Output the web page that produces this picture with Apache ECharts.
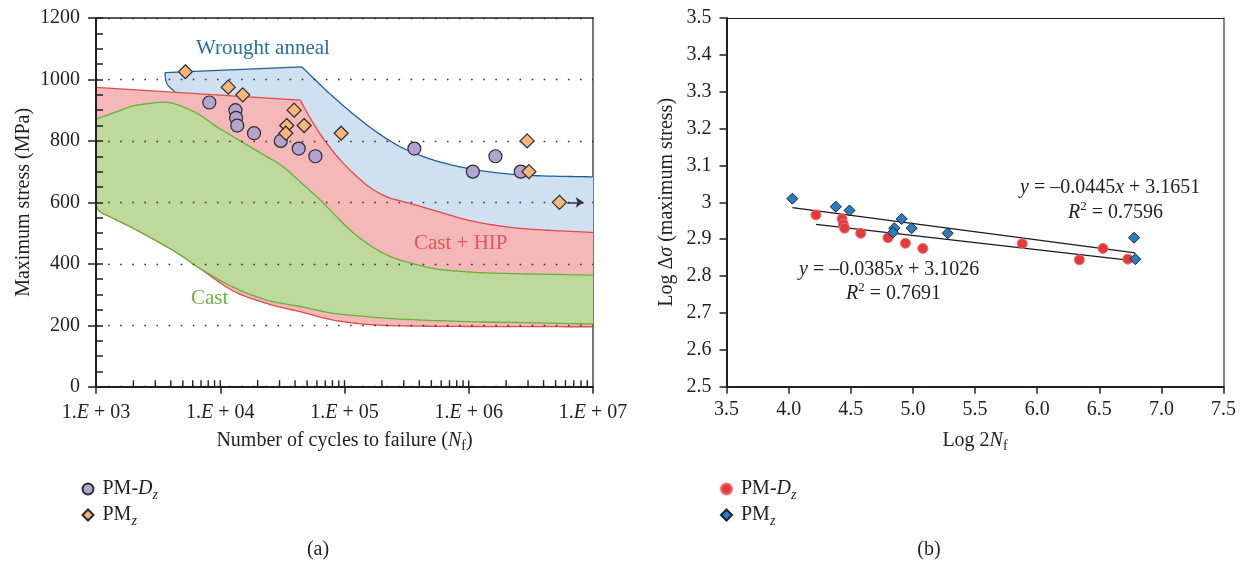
<!DOCTYPE html>
<html>
<head>
<meta charset="utf-8">
<script src="https://cdn.jsdelivr.net/npm/echarts@6/dist/echarts.min.js"></script>
<style>
  html, body { margin: 0; padding: 0; background: #ffffff; }
  #chart { width: 1242px; height: 565px; }
</style>
</head>
<body>
<div id="chart"></div>
<script>
const FONT = 'Liberation Serif';
const INK = '#231f20';

// ---- (a) maximum stress vs. cycles to failure ----
const pmDzCycles = [8170, 13250, 13400, 13700, 18700, 30700, 42800, 58300, 365000, 1079000, 1640000, 2620000];
const pmDzStress = [925, 900, 875, 850, 825, 800, 775, 750, 775, 700, 750, 700];
const pmZCycles = [5240, 11600, 15170, 39300, 34300, 33700, 47300, 94000, 2950000, 3050000, 5370000];
const pmZStress = [1025, 975, 950, 900, 850, 825, 850, 825, 800, 700, 600];
const runoutArrow = [[6.2e6, 600], [8.4e6, 600]];

// scatter bands of the reference alloys, [cycles, MPa]
const wroughtEdge = [[4325, 959], [3820, 980], [3640, 998], [3594, 1022]];
const wroughtTopLine = [[3594, 1022], [45300, 1041]];
const wroughtTopCurve = [[45300, 1041], [80900, 944], [151400, 852], [280500, 781], [516800, 738], [966000, 711], [1791000, 695], [3303000, 687], [1e7, 683]];
const castHipTopLine = [[1000, 974], [43970, 933]];
const castHipTopCurve = [[43970, 933], [56200, 857], [72100, 792], [98000, 727], [151400, 656], [219300, 618], [307700, 601], [516800, 575], [966000, 543], [1791000, 523], [3303000, 512], [1e7, 502]];
const castHipBottom = [[1000, 591], [1077, 570], [1296, 553], [1987, 516], [3707, 456], [5015, 423], [6870, 385], [12680, 312], [23660, 271], [43970, 244], [80900, 217], [151400, 203], [280500, 198], [966000, 196], [1e7, 195]];
const castTop = [[1000, 871], [1468, 895], [1987, 914], [2722, 922], [3462, 926], [4168, 922], [5372, 906], [6870, 884], [9370, 846], [12680, 814], [17380, 781], [23660, 749], [32040, 716], [43970, 667], [63670, 608], [80900, 565], [110900, 510], [151400, 467], [204700, 435], [280500, 412], [516800, 385], [966000, 374], [1791000, 369], [1e7, 363]];
const castBottom = [[1000, 591], [1077, 570], [1296, 553], [1987, 516], [3707, 456], [5015, 423], [6870, 385], [12680, 324], [23660, 282], [43970, 261], [80900, 239], [151400, 228], [280500, 220], [966000, 212], [1e7, 204]];

// ---- (b) log-log data and linear fits ----
const pmDzLog2N = [4.22, 4.43, 4.44, 4.45, 4.58, 4.80, 4.94, 5.08, 5.88, 6.53, 6.34, 6.73];
const pmDzLogS = [2.966, 2.955, 2.941, 2.930, 2.916, 2.904, 2.889, 2.875, 2.888, 2.875, 2.844, 2.846];
const pmZLog2N = [4.03, 4.38, 4.49, 4.91, 4.85, 4.84, 4.99, 5.28, 6.78, 6.79];
const pmZLogS = [3.010, 2.988, 2.978, 2.955, 2.930, 2.918, 2.930, 2.916, 2.904, 2.846];
const pmZFit = [-0.0445, 3.1651];
const pmZFitRange = [4.03, 6.79];
const pmZR2 = 0.7596;
const pmDzFit = [-0.0385, 3.1026];
const pmDzFitRange = [4.22, 6.75];
const pmDzR2 = 0.7691;

const zip = (a, b) => a.map((v, i) => [v, b[i]]);
const fitLine = (fit, range) => range.map(x => [x, fit[1] + fit[0] * x]);
const eqText = fit => '{i|y}{n| = \u2013' + Math.abs(fit[0]).toFixed(4) + '}{i|x}{n| + ' + fit[1].toFixed(4) + '}';
const r2Text = r2 => '{i|R}{sup|2}{n| = ' + r2.toFixed(4) + '}';

// Catmull-Rom pass over pixel points for smooth band outlines
function smooth(pts, steps) {
  if (pts.length < 3) return pts.slice();
  const out = [];
  for (let i = 0; i < pts.length - 1; i++) {
    const p0 = pts[i - 1] || pts[i], p1 = pts[i], p2 = pts[i + 1], p3 = pts[i + 2] || pts[i + 1];
    for (let s = 0; s < steps; s++) {
      const t = s / steps, t2 = t * t, t3 = t2 * t;
      const f = k => 0.5 * (2 * p1[k] + (-p0[k] + p2[k]) * t + (2 * p0[k] - 5 * p1[k] + 4 * p2[k] - p3[k]) * t2 + (-p0[k] + 3 * p1[k] - 3 * p2[k] + p3[k]) * t3);
      out.push([f(0), f(1)]);
    }
  }
  out.push(pts[pts.length - 1]);
  return out;
}

function bandSeries(z, fillPaths, strokePaths, fill, stroke) {
  return {
    type: 'custom', xAxisIndex: 0, yAxisIndex: 0, z: z, silent: true,
    data: [[1000, 500]],
    renderItem: function (params, api) {
      const px = path => {
        const rev = path.reverse === true;
        const pts = (path.pts || path).map(p => api.coord(p));
        const sm = smooth(pts, 12);
        return rev ? sm.reverse() : sm;
      };
      let poly = [];
      fillPaths.forEach(p => { poly = poly.concat(px(p)); });
      const children = [{ type: 'polygon', shape: { points: poly }, style: { fill: fill, stroke: null } }];
      strokePaths.forEach(p => {
        children.push({ type: 'polyline', shape: { points: px(p) }, style: { stroke: stroke, lineWidth: 1.3, fill: null } });
      });
      return { type: 'group', children: children };
    }
  };
}

const serifRich = (size, color) => ({
  n: { fontFamily: FONT, fontSize: size, color: color, lineHeight: 26 },
  i: { fontFamily: FONT, fontSize: size, color: color, fontStyle: 'italic', lineHeight: 26 },
  s: { fontFamily: FONT, fontSize: size * 0.7, color: color, verticalAlign: 'bottom', lineHeight: 18 },
  si: { fontFamily: FONT, fontSize: size * 0.7, color: color, fontStyle: 'italic', verticalAlign: 'bottom', lineHeight: 18 },
  gap: { width: 4, lineHeight: 26 }
});

const graphicRich = (size, color) => ({
  n: { fontFamily: FONT, fontSize: size, fill: color, lineHeight: 26 },
  i: { fontFamily: FONT, fontSize: size, fill: color, fontStyle: 'italic', lineHeight: 26 },
  sup: { fontFamily: FONT, fontSize: size * 0.65, fill: color, verticalAlign: 'top', lineHeight: 13 }
});

// minor ticks for the logarithmic cycles axis (inside the frame)
const logTickValues = [];
for (let d = 1e3; d < 1e7; d *= 10) {
  for (let m = 1; m < 10; m++) if (d * m > 1e3) logTickValues.push(d * m);
}

const chart = echarts.init(document.getElementById('chart'), null, { renderer: 'canvas' });

const baseLabel = { fontFamily: FONT, fontSize: 20, color: INK };
const frameLine = (color, width) => ({ show: true, onZero: false, lineStyle: { color: color, width: width } });
const hidden = { axisTick: { show: false }, axisLabel: { show: false }, splitLine: { show: false } };
const legendName = n => n.indexOf('PM-Dz') === 0 ? '{gap|}{n|PM-}{i|D}{si|z}' : '{gap|}{n|PM}{si|z}';

const option = {
  animation: false,
  backgroundColor: '#ffffff',
  textStyle: { fontFamily: FONT },
  grid: [
    { left: 96, top: 18, width: 497, height: 368.7 },
    { left: 726.5, top: 18, width: 497, height: 368.7 }
  ],
  xAxis: [
    {
      gridIndex: 0, type: 'log', logBase: 10, min: 1e3, max: 1e7, position: 'bottom', z: 5,
      axisLine: frameLine(INK, 2),
      axisTick: { show: true, length: 7, lineStyle: { color: INK, width: 1.5 } },
      axisLabel: {
        margin: 13,
        formatter: v => '{n|1.}{i|E}{n| + 0' + Math.round(Math.log10(v)) + '}',
        rich: serifRich(20, INK)
      },
      splitLine: { show: false },
      name: '{n|Number of cycles to failure (}{i|N}{s|f}{n|)}',
      nameLocation: 'middle', nameGap: 41,
      nameTextStyle: { rich: serifRich(20, INK) }
    },
    Object.assign({ gridIndex: 0, type: 'value', min: 0, max: 1, position: 'top', axisLine: frameLine(INK, 1.5) }, hidden),
    {
      gridIndex: 1, type: 'value', min: 3.5, max: 7.5, interval: 0.5, position: 'bottom', z: 5,
      axisLine: frameLine(INK, 2),
      axisTick: { show: true, length: 7, lineStyle: { color: INK, width: 1.5 } },
      axisLabel: Object.assign({ margin: 13, formatter: v => v.toFixed(1) }, baseLabel),
      splitLine: { show: false },
      name: '{n|Log 2}{i|N}{s|f}',
      nameLocation: 'middle', nameGap: 41,
      nameTextStyle: { rich: serifRich(20, INK) }
    },
    Object.assign({ gridIndex: 1, type: 'value', min: 0, max: 1, position: 'top', axisLine: frameLine(INK, 1.2) }, hidden)
  ],
  yAxis: [
    {
      gridIndex: 0, type: 'value', min: 0, max: 1200, interval: 200, position: 'left', z: 5,
      axisLine: frameLine(INK, 2),
      axisTick: { show: true, length: 8, lineStyle: { color: INK, width: 1.5 } },
      axisLabel: Object.assign({ margin: 16, formatter: v => String(v) }, baseLabel),
      splitLine: { show: true, lineStyle: { color: '#333333', width: 1.4, type: [1.6, 10.5] } },
      name: 'Maximum stress (MPa)', nameLocation: 'middle', nameGap: 62, nameRotate: 90,
      nameTextStyle: baseLabel
    },
    {
      gridIndex: 0, type: 'value', min: 0, max: 1200, interval: 50, position: 'left', z: 5,
      axisLine: { show: false },
      axisTick: { show: true, inside: true, length: 7, lineStyle: { color: INK, width: 1.5 } },
      axisLabel: { show: false }, splitLine: { show: false }
    },
    Object.assign({ gridIndex: 0, type: 'value', min: 0, max: 1, position: 'right', axisLine: frameLine('#555555', 1.6) }, hidden),
    {
      gridIndex: 1, type: 'value', min: 2.5, max: 3.5, interval: 0.1, position: 'left', z: 5,
      axisLine: frameLine(INK, 2),
      axisTick: { show: true, length: 7, lineStyle: { color: INK, width: 1.5 } },
      axisLabel: Object.assign({ margin: 15, formatter: v => String(Math.round(v * 10) / 10) }, baseLabel),
      splitLine: { show: false },
      name: '{n|Log \u0394}{i|\u03c3}{n| (maximum stress)}', nameLocation: 'middle', nameGap: 47, nameRotate: 90,
      nameTextStyle: { rich: serifRich(20, INK) }
    },
    Object.assign({ gridIndex: 1, type: 'value', min: 0, max: 1, position: 'right', axisLine: frameLine('#666666', 1.6) }, hidden)
  ],
  legend: [
    {
      orient: 'vertical', left: 76.5, top: 471, itemWidth: 11, itemHeight: 11, itemGap: 0,
      data: ['PM-Dz (a)', 'PMz (a)'], selectedMode: false, formatter: legendName,
      textStyle: { fontFamily: FONT, fontSize: 20, color: INK, lineHeight: 25, rich: serifRich(20, INK) }
    },
    {
      orient: 'vertical', left: 715, top: 471, itemWidth: 11, itemHeight: 11, itemGap: 0,
      data: ['PM-Dz (b)', 'PMz (b)'], selectedMode: false, formatter: legendName,
      textStyle: { fontFamily: FONT, fontSize: 20, color: INK, lineHeight: 25, rich: serifRich(20, INK) }
    }
  ],
  graphic: [
    { type: 'text', z: 100, x: 196, y: 48, style: { text: 'Wrought anneal', fontFamily: FONT, fontSize: 21, fill: '#2a6ea6', verticalAlign: 'middle' } },
    { type: 'text', z: 100, x: 414, y: 243, style: { text: 'Cast + HIP', fontFamily: FONT, fontSize: 21, fill: '#e0585b', verticalAlign: 'middle' } },
    { type: 'text', z: 100, x: 191, y: 298, style: { text: 'Cast', fontFamily: FONT, fontSize: 21, fill: '#6bb343', verticalAlign: 'middle' } },
    { type: 'text', z: 100, x: 1020, y: 188, style: { text: eqText(pmZFit), rich: graphicRich(20, INK), fontFamily: FONT, fontSize: 20, fill: INK, verticalAlign: 'middle' } },
    { type: 'text', z: 100, x: 1068, y: 213, style: { text: r2Text(pmZR2), rich: graphicRich(20, INK), fontFamily: FONT, fontSize: 20, fill: INK, verticalAlign: 'middle' } },
    { type: 'text', z: 100, x: 799, y: 270, style: { text: eqText(pmDzFit), rich: graphicRich(20, INK), fontFamily: FONT, fontSize: 20, fill: INK, verticalAlign: 'middle' } },
    { type: 'text', z: 100, x: 846, y: 294, style: { text: r2Text(pmDzR2), rich: graphicRich(20, INK), fontFamily: FONT, fontSize: 20, fill: INK, verticalAlign: 'middle' } },
    { type: 'text', z: 100, x: 318, y: 550, style: { text: '(a)', fontFamily: FONT, fontSize: 20, fill: INK, align: 'center', verticalAlign: 'middle' } },
    { type: 'text', z: 100, x: 929, y: 550, style: { text: '(b)', fontFamily: FONT, fontSize: 20, fill: INK, align: 'center', verticalAlign: 'middle' } }
  ],
  series: [
    bandSeries(1,
      [wroughtEdge, wroughtTopLine, wroughtTopCurve, [[1e7, 683], [1e7, 502]], { pts: castHipTopCurve, reverse: true }],
      [wroughtEdge, wroughtTopLine, wroughtTopCurve],
      '#cfe0f0', '#1d6196'),
    bandSeries(2,
      [castHipTopLine, castHipTopCurve, [[1e7, 502], [1e7, 195]], { pts: castHipBottom, reverse: true }],
      [castHipTopLine, castHipTopCurve, castHipBottom],
      '#f5b8b8', '#e5484c'),
    bandSeries(3,
      [castTop, [[1e7, 363], [1e7, 204]], { pts: castBottom, reverse: true }],
      [castTop, castBottom],
      '#bfd89b', '#67b23c'),
    {
      type: 'custom', xAxisIndex: 0, yAxisIndex: 0, z: 6, silent: true,
      data: logTickValues.map(v => [v, 0]),
      renderItem: function (params, api) {
        const p = api.coord([api.value(0), 0]);
        return { type: 'line', shape: { x1: p[0], y1: p[1], x2: p[0], y2: p[1] - 6.5 }, style: { stroke: INK, lineWidth: 1.4 } };
      }
    },
    {
      name: 'PM-Dz (a)', type: 'scatter', xAxisIndex: 0, yAxisIndex: 0, z: 10,
      data: zip(pmDzCycles, pmDzStress), symbol: 'circle', symbolSize: 13,
      itemStyle: { color: '#b5a3cf', borderColor: '#2b2b2b', borderWidth: 1.2, opacity: 1 }
    },
    {
      name: 'PMz (a)', type: 'scatter', xAxisIndex: 0, yAxisIndex: 0, z: 10,
      data: zip(pmZCycles, pmZStress), symbol: 'diamond', symbolSize: 14,
      itemStyle: { color: '#f8b67a', borderColor: '#2b2b2b', borderWidth: 1.2, opacity: 1 }
    },
    {
      type: 'lines', coordinateSystem: 'cartesian2d', xAxisIndex: 0, yAxisIndex: 0, z: 10, silent: true,
      data: [{ coords: runoutArrow }],
      symbol: ['none', 'arrow'], symbolSize: 8,
      lineStyle: { color: '#333333', width: 1.5, opacity: 1 }
    },
    {
      type: 'line', xAxisIndex: 2, yAxisIndex: 3, z: 8, silent: true,
      data: fitLine(pmZFit, pmZFitRange), symbol: 'none',
      lineStyle: { color: '#1a1a1a', width: 1.2 }
    },
    {
      type: 'line', xAxisIndex: 2, yAxisIndex: 3, z: 8, silent: true,
      data: fitLine(pmDzFit, pmDzFitRange), symbol: 'none',
      lineStyle: { color: '#1a1a1a', width: 1.2 }
    },
    {
      name: 'PM-Dz (b)', type: 'scatter', xAxisIndex: 2, yAxisIndex: 3, z: 10,
      data: zip(pmDzLog2N, pmDzLogS), symbol: 'circle', symbolSize: 10,
      itemStyle: { color: '#e5393c', borderColor: '#f07070', borderWidth: 1, opacity: 1 }
    },
    {
      name: 'PMz (b)', type: 'scatter', xAxisIndex: 2, yAxisIndex: 3, z: 10,
      data: zip(pmZLog2N, pmZLogS), symbol: 'diamond', symbolSize: 11,
      itemStyle: { color: '#2a7dc0', borderColor: '#1a2230', borderWidth: 1, opacity: 1 }
    }
  ]
};

chart.setOption(option);
</script>
</body>
</html>
